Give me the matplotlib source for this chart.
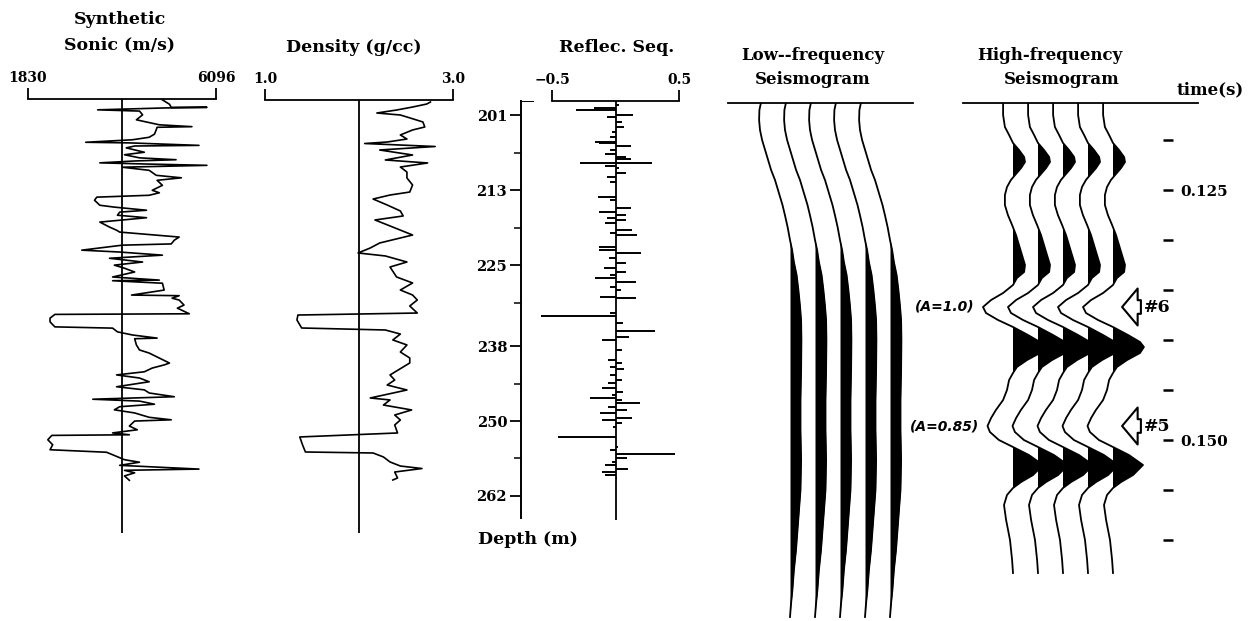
import numpy as np
import matplotlib
matplotlib.use('Agg')
import matplotlib.pyplot as plt
from matplotlib import transforms

W, H = 1254, 621
plt.rcParams['font.family'] = 'DejaVu Serif'
plt.rcParams['font.weight'] = 'bold'

# ── Well logs (depth in m) ────────────────────────────────────────────────────
sonic_depth = [198.5, 199.2, 199.7, 199.7, 199.8, 200.1, 200.3, 200.9, 201.7, 202.5,
               202.8, 202.9, 203.3, 204.0, 204.5, 204.9, 205.3, 205.4, 205.8, 205.9,
               206.2, 206.9, 207.3, 207.8, 208.1, 208.3, 208.6, 208.8, 209.0, 209.3,
               209.8, 210.6, 211.0, 211.4, 212.2, 213.0, 213.4, 213.8, 214.1, 214.6,
               215.4, 215.7, 216.2, 216.5, 217.0, 217.4, 218.1, 218.9, 219.4, 219.7,
               220.5, 221.0, 221.6, 221.8, 222.6, 222.9, 223.4, 223.9, 224.5, 225.0,
               225.5, 226.1, 226.9, 227.4, 227.5, 227.9, 229.0, 229.8, 229.9, 230.3,
               230.6, 231.4, 231.9, 232.8, 232.9, 233.5, 234.1, 234.9, 235.1, 235.7,
               236.2, 236.7, 236.8, 237.8, 238.6, 239.1, 239.9, 240.7, 241.0, 241.5,
               242.1, 242.6, 243.1, 243.7, 244.5, 245.0, 245.5, 246.1, 246.5, 246.8,
               247.3, 247.7, 248.2, 248.7, 249.4, 249.8, 250.0, 250.8, 251.4, 251.9,
               252.2, 252.3, 253.0, 253.8, 254.6, 255.0, 255.4, 256.2, 256.6, 257.1,
               257.7, 257.9, 258.3, 258.8, 259.5]
sonic_vel = [4880, 5040, 5080, 5890, 4920, 3410, 4360, 4430, 4290, 4810,
             5550, 4760, 4740, 4700, 4580, 4200, 3140, 4130, 5710, 4250,
             4060, 4470, 4020, 4360, 5190, 4250, 3460, 4580, 5890, 3970,
             4580, 4740, 5310, 4760, 4880, 4650, 4810, 4580, 3390, 3340,
             3460, 3790, 4520, 3910, 3860, 4520, 3460, 3680, 3840, 3910,
             5260, 5150, 5080, 3970, 3050, 3910, 4880, 3680, 4430, 3790,
             4020, 4250, 3750, 4810, 3750, 4880, 4920, 4180, 5260, 5100,
             5260, 5370, 5220, 5490, 2440, 2330, 2330, 2440, 3750, 3860,
             4200, 4760, 4250, 4290, 4360, 4580, 4810, 5040, 4920, 4650,
             4470, 3840, 4360, 4580, 3840, 4470, 4580, 5150, 3300, 4360,
             4700, 3910, 3790, 4250, 4580, 5080, 4250, 4130, 4310, 3750,
             4130, 2370, 2280, 2390, 2330, 3610, 3750, 4020, 4360, 3910,
             5710, 4020, 4250, 4020, 4130]

dens_depth = [198.85, 199.17, 199.65, 200.13, 200.61, 200.93, 201.25, 202.05, 202.85, 203.33,
              204.13, 204.78, 205.26, 205.50, 205.98, 206.54, 207.34, 208.14, 208.62, 209.27,
              210.07, 211.03, 212.15, 213.28, 213.76, 214.40, 215.36, 216.32, 217.12, 217.76,
              218.72, 220.17, 221.45, 222.25, 223.05, 223.53, 224.50, 225.30, 226.90, 227.86,
              228.99, 229.79, 230.59, 231.55, 232.68, 233.00, 233.80, 235.08, 235.40, 236.05,
              237.00, 237.80, 238.93, 239.89, 240.69, 242.61, 243.42, 244.22, 245.02, 246.30,
              246.62, 247.43, 248.22, 249.03, 249.83, 250.63, 251.91, 252.55, 253.84, 254.96,
              255.12, 255.76, 256.56, 257.21, 257.61, 258.17, 259.13, 259.45]
dens_val = [2.76, 2.72, 2.57, 2.40, 2.19, 2.44, 2.51, 2.68, 2.70, 2.57,
            2.44, 2.51, 2.30, 2.06, 2.81, 2.22, 2.57, 2.28, 2.73, 2.44,
            2.51, 2.51, 2.57, 2.54, 2.33, 2.15, 2.30, 2.44, 2.47, 2.17,
            2.33, 2.57, 2.22, 2.12, 1.99, 2.28, 2.51, 2.33, 2.40, 2.57,
            2.44, 2.57, 2.62, 2.54, 2.62, 1.35, 1.34, 1.39, 2.28, 2.44,
            2.36, 2.51, 2.44, 2.54, 2.54, 2.33, 2.38, 2.30, 2.51, 2.12,
            2.33, 2.26, 2.56, 2.38, 2.44, 2.38, 2.41, 1.37, 1.40, 1.43,
            2.15, 2.26, 2.33, 2.44, 2.67, 2.38, 2.41, 2.36]

refl_depth = [199.33, 199.86, 200.13, 200.93, 201.30, 202.00, 202.81, 203.61, 204.41, 205.21,
              205.47, 205.90, 206.54, 207.23, 207.62, 208.03, 208.58, 208.67, 209.11, 209.48,
              210.28, 210.82, 211.62, 214.03, 214.56, 215.89, 216.43, 216.96, 217.49, 217.76,
              218.20, 219.37, 219.90, 220.17, 222.05, 222.57, 223.10, 223.91, 224.71, 225.51,
              226.05, 226.58, 227.02, 227.66, 228.46, 228.99, 230.06, 230.32, 232.72, 233.16,
              234.33, 235.56, 236.48, 237.00, 238.61, 240.22, 240.74, 241.38, 241.70, 242.61,
              243.42, 243.95, 244.75, 245.29, 245.82, 246.35, 246.62, 247.06, 247.70, 248.22,
              248.76, 249.56, 249.83, 250.36, 250.90, 252.51, 254.11, 254.64, 255.28, 255.97,
              256.52, 257.05, 257.73, 258.12, 258.65, 259.18]
refl_val = [0.03, -0.17, -0.31, 0.14, -0.07, 0.05, 0.07, -0.03, -0.04, -0.16,
            -0.13, 0.12, -0.04, -0.08, 0.08, 0.12, -0.28, 0.29, -0.08, 0.03,
            0.08, -0.07, -0.04, -0.14, -0.04, 0.12, -0.13, 0.08, -0.07, 0.08,
            -0.08, 0.13, -0.04, 0.17, -0.13, -0.13, 0.20, -0.05, 0.08, -0.09,
            0.08, -0.04, -0.16, 0.16, -0.04, 0.04, -0.12, 0.16, -0.04, -0.59,
            0.06, 0.31, 0.11, -0.11, 0.05, -0.06, 0.05, -0.04, 0.07, -0.04,
            0.05, -0.06, -0.11, 0.06, -0.03, -0.20, 0.05, 0.19, -0.06, 0.09,
            -0.12, 0.13, -0.11, 0.05, -0.02, -0.45, 0.02, -0.04, 0.47, 0.09,
            -0.03, -0.08, 0.10, -0.11, -0.08, 0.01]

depth_ticks = [201, 213, 225, 238, 250, 262]
depth_minor = [207, 219, 231, 244, 256]

# ── Synthetic seismograms (time in s, amplitude normalised to event #6) ──────
lf_time = [0.1163, 0.1170, 0.1180, 0.1190, 0.1200, 0.1210, 0.1220, 0.1230, 0.1240, 0.1253,
           0.1265, 0.1275, 0.1287, 0.1300, 0.1310, 0.1322, 0.1335, 0.1350, 0.1365, 0.1380,
           0.1400, 0.1430, 0.1460, 0.1490, 0.1520, 0.1550, 0.1570, 0.1590, 0.1610, 0.1630,
           0.1650, 0.1665, 0.1677]
lf_amp = [-0.97, -1.02, -1.03, -1.0, -0.93, -0.83, -0.73, -0.63, -0.5, -0.37,
          -0.25, -0.17, -0.08, 0.0, 0.07, 0.13, 0.22, 0.28, 0.33, 0.37,
          0.38, 0.37, 0.35, 0.35, 0.37, 0.35, 0.3, 0.25, 0.2, 0.13,
          0.08, 0.03, 0.0]

hf_time = [0.1163, 0.1175, 0.1187, 0.1195, 0.1203, 0.1210, 0.1217, 0.1222, 0.1228, 0.1235,
           0.1240, 0.1247, 0.1255, 0.1265, 0.1275, 0.1285, 0.1295, 0.1305, 0.1315, 0.1325,
           0.1332, 0.1338, 0.1345, 0.1353, 0.1360, 0.1367, 0.1373, 0.1380, 0.1387, 0.1395,
           0.1402, 0.1407, 0.1413, 0.1420, 0.1427, 0.1433, 0.1440, 0.1450, 0.1460, 0.1470,
           0.1478, 0.1486, 0.1492, 0.1500, 0.1507, 0.1515, 0.1525, 0.1535, 0.1542, 0.1548,
           0.1555, 0.1565, 0.1580, 0.1600, 0.1620, 0.1633]
hf_amp = [-0.33, -0.33, -0.27, -0.13, 0.0, 0.2, 0.37, 0.4, 0.27, 0.07,
          -0.07, -0.2, -0.27, -0.27, -0.17, -0.03, 0.1, 0.2, 0.3, 0.4,
          0.37, 0.13, 0.0, -0.33, -0.73, -1.0, -0.9, -0.5, 0.0, 0.5,
          0.9, 1.03, 0.9, 0.47, 0.13, 0.0, -0.13, -0.2, -0.33, -0.57,
          -0.73, -0.85, -0.77, -0.47, 0.0, 0.53, 1.0, 0.67, 0.27, 0.0,
          -0.2, -0.3, -0.23, -0.1, -0.03, 0.0]

trace_pos = [1, 2, 3, 4, 5]
time_ticks = [0.120, 0.125, 0.130, 0.135, 0.140, 0.145, 0.150, 0.155, 0.160]
time_labels = ['', '0.125', '', '', '', '', '0.150', '', '']
events = ['#6', '#5']
event_amp_labels = ['(A=1.0)', '(A=0.85)']

GAIN = 1.2   # amplitude 1.0 = 1.2 trace spacings

fig = plt.figure(figsize=(W / 100, H / 100), dpi=100)


def px_axes(x0, y0, x1, y1):
    ax = fig.add_axes([x0 / W, 1 - y1 / H, (x1 - x0) / W, (y1 - y0) / H])
    ax.patch.set_visible(False)
    return ax


def label(x, y, s, **kw):
    kw.setdefault('ha', 'center')
    kw.setdefault('va', 'center')
    kw.setdefault('fontsize', 12.5)
    fig.text(x / W, 1 - y / H, s, **kw)


def depth_at(py):   # 6.237 px per metre
    return 231.5 + (py - 305.67) / 6.237


def time_at(py):    # 50 px per 5 ms
    return 0.125 + (py - 190) / 10000


def only_spine(ax, keep):
    for s in ['left', 'right', 'top', 'bottom']:
        ax.spines[s].set_visible(s == keep)


def log_panel(x0, x1, top, bottom, lim, ticks, tick_labels, center):
    ax = px_axes(x0, top, x1, bottom)
    ax.set_xlim(*lim)
    ax.set_ylim(depth_at(bottom), depth_at(top))
    only_spine(ax, 'top')
    ax.spines['top'].set_linewidth(1.3)
    ax.xaxis.tick_top()
    ax.set_xticks(ticks)
    ax.set_xticklabels(tick_labels, fontsize=10)
    ax.tick_params(axis='x', direction='out', length=8, width=1.3, pad=2)
    ax.set_yticks([])
    ax.axvline(center, color='black', lw=1.3)
    return ax


# ── Sonic ─────────────────────────────────────────────────────────────────────
ax_s = log_panel(28, 216, 99, 533, (1830, 6096), [1830, 6096], ['1830', '6096'], 3963)
ax_s.plot(sonic_vel, sonic_depth, color='black', lw=1.2, clip_on=False)
label(120, 20, 'Synthetic')
label(120, 45, 'Sonic (m/s)')

# ── Density ───────────────────────────────────────────────────────────────────
ax_r = log_panel(265, 453, 100, 533, (1.0, 3.0), [1.0, 3.0], ['1.0', '3.0'], 2.0)
ax_r.plot(dens_val, dens_depth, color='black', lw=1.2, clip_on=False)
label(354, 48, 'Density (g/cc)')

# ── Reflection sequence ──────────────────────────────────────────────────────
ax_q = log_panel(552, 679, 101, 520, (-0.5, 0.5), [-0.5, 0.5], ['\u22120.5', '0.5'], 0.0)
ax_q.hlines(refl_depth, 0, refl_val, color='black', lw=1.4, clip_on=False)
label(617, 48, 'Reflec. Seq.')

# depth axis
ax_d = px_axes(521, 101, 560, 518)
ax_d.set_ylim(depth_at(518), depth_at(101))
only_spine(ax_d, 'left')
ax_d.spines['left'].set_linewidth(1.4)
ax_d.set_xticks([])
ax_d.set_yticks(depth_ticks)
ax_d.set_yticklabels([str(d) for d in depth_ticks], fontsize=10.5)
ax_d.set_yticks(depth_minor, minor=True)
ax_d.tick_params(axis='y', which='major', length=8, width=1.3, pad=2)
ax_d.tick_params(axis='y', which='minor', length=5, width=1.1)
ax_d.axhline(depth_at(101), xmin=0, xmax=12 / 39, color='black', lw=1.4)
label(478, 540, 'Depth (m)', ha='left')


# ── Seismograms ──────────────────────────────────────────────────────────────
def seismo_panel(x0, x1, lim, t, amp):
    t = np.asarray(t)
    amp = np.asarray(amp)
    ax = px_axes(x0, 103, x1, 620)
    ax.set_ylim(time_at(620), time_at(103))
    ax.set_xlim(*lim)
    only_spine(ax, 'top')
    ax.spines['top'].set_linewidth(1.3)
    ax.set_xticks([])
    ax.set_yticks([])
    for pos in trace_pos:
        xs = pos + GAIN * amp
        ax.fill_betweenx(t, pos, xs, where=amp > 0, interpolate=True,
                         color='black', lw=0)
        ax.plot(xs, t, color='black', lw=1.3)
    return ax


ax_lf = seismo_panel(728, 913, (-1.48, 5.92), lf_time, lf_amp)
label(813, 56, 'Low--frequency', fontsize=12)
label(813, 80, 'Seismogram', fontsize=12)

ax_hf = seismo_panel(963, 1198, (-1.0, 8.4), hf_time, hf_amp)
label(1050, 56, 'High-frequency', fontsize=12)
label(1062, 80, 'Seismogram', fontsize=12)

# time axis
ax_t = px_axes(1153, 103, 1163, 620)
ax_t.set_ylim(time_at(620), time_at(103))
only_spine(ax_t, None)
ax_t.set_xticks([])
ax_t.yaxis.tick_right()
ax_t.set_yticks(time_ticks)
ax_t.set_yticklabels(time_labels)
ax_t.tick_params(axis='y', direction='out', length=7.5, width=1.8, pad=5, labelsize=11)
label(1210, 90, 'time(s)', fontsize=12)

# event annotations at the troughs of the high-frequency trace
hf_a = np.asarray(hf_amp)
troughs = [i for i in range(1, len(hf_a) - 1)
           if hf_a[i] < -0.5 and hf_a[i] <= hf_a[i - 1] and hf_a[i] <= hf_a[i + 1]]
blend = transforms.blended_transform_factory(ax_hf.transAxes, ax_hf.transData)
for i, tag, amp_label in zip(troughs, events, event_amp_labels):
    t0 = hf_time[i]
    ax_hf.annotate(amp_label,
                   xy=(trace_pos[0] + GAIN * hf_a[i], t0), xytext=(-6, 0),
                   textcoords='offset points', ha='right', va='center',
                   fontsize=10, fontweight='bold', fontstyle='italic',
                   family='DejaVu Sans', annotation_clip=False)
    ax_hf.annotate('', xy=(0.677, t0), xytext=(0.757, t0),
                   xycoords=blend, textcoords=blend,
                   arrowprops=dict(arrowstyle='simple,head_length=0.8,head_width=1.9,tail_width=0.7',
                                   mutation_scale=14, fc='white', ec='black', lw=1.5,
                                   shrinkA=0, shrinkB=0))
    ax_hf.text(0.77, t0, tag, transform=blend, ha='left', va='center',
               fontsize=12.5, fontweight='bold')

fig.savefig('out.png', dpi=100)
